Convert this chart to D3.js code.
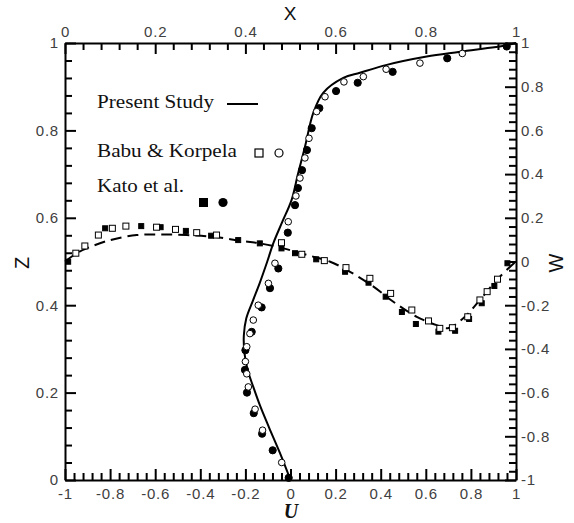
<!DOCTYPE html>
<html>
<head>
<meta charset="utf-8">
<script src="https://cdn.jsdelivr.net/npm/d3@7"></script>
<style>
  html, body { margin: 0; padding: 0; background: #fff; }
  svg { display: block; }
  .tick text { font-family: "Liberation Sans", Arial, sans-serif; font-size: 15px; fill: #404040; letter-spacing: 0.8px; }
</style>
</head>
<body>
<svg id="chart" width="574" height="523"></svg>
<script>
// Vertical centreline: U velocity against height z
const uPresentZ = [0, 0.062, 0.12, 0.17, 0.213, 0.25, 0.29, 0.33, 0.37, 0.41, 0.45, 0.50, 0.542, 0.59, 0.641, 0.70, 0.762, 0.84, 0.886, 0.92, 0.932, 0.95, 0.969, 0.98, 0.995, 1];
const uPresentU = [0, -0.047, -0.095, -0.135, -0.165, -0.189, -0.204, -0.207, -0.196, -0.167, -0.137, -0.103, -0.076, -0.037, 0.005, 0.033, 0.064, 0.101, 0.145, 0.234, 0.308, 0.427, 0.604, 0.752, 0.959, 1];

// Horizontal centreline: W velocity against X
const wPresentX = [0, 0.026, 0.048, 0.10, 0.159, 0.211, 0.27, 0.329, 0.388, 0.432, 0.484, 0.536, 0.588, 0.632, 0.684, 0.728, 0.78, 0.824, 0.849, 0.883, 0.92, 0.957, 0.987, 1];
const wPresentW = [0, 0.038, 0.06, 0.098, 0.121, 0.124, 0.121, 0.113, 0.095, 0.083, 0.06, 0.03, -0.001, -0.047, -0.115, -0.184, -0.253, -0.291, -0.305, -0.26, -0.176, -0.085, -0.024, 0];

// Babu & Korpela (open symbols)
const babuUz = [0.040, 0.114, 0.162, 0.213, 0.243, 0.271, 0.305, 0.335, 0.366, 0.400, 0.450, 0.496, 0.591, 0.650, 0.691, 0.737, 0.782, 0.843, 0.877, 0.911, 0.923, 0.940, 0.954, 0.976];
const babuU  = [-0.039, -0.124, -0.157, -0.187, -0.194, -0.200, -0.194, -0.180, -0.165, -0.143, -0.098, -0.069, -0.010, 0.024, 0.042, 0.064, 0.082, 0.116, 0.153, 0.237, 0.323, 0.424, 0.574, 0.762];
const babuWx = [0.024, 0.044, 0.074, 0.105, 0.135, 0.203, 0.245, 0.292, 0.336, 0.480, 0.525, 0.575, 0.623, 0.676, 0.722, 0.769, 0.806, 0.831, 0.859, 0.893, 0.920, 0.936, 0.959];
const babuW  = [0.038, 0.071, 0.121, 0.152, 0.162, 0.157, 0.147, 0.132, 0.121, 0.086, 0.033, 0.004, -0.028, -0.077, -0.146, -0.222, -0.272, -0.306, -0.303, -0.253, -0.176, -0.138, -0.081];

// Kato et al. (filled symbols)
const katoUz = [0.005, 0.068, 0.106, 0.153, 0.200, 0.252, 0.297, 0.339, 0.395, 0.439, 0.484, 0.566, 0.629, 0.668, 0.709, 0.755, 0.805, 0.851, 0.890, 0.909, 0.934, 0.965, 0.992];
const katoU  = [-0.008, -0.079, -0.126, -0.163, -0.193, -0.202, -0.200, -0.172, -0.128, -0.091, -0.054, -0.012, 0.020, 0.033, 0.051, 0.073, 0.094, 0.128, 0.202, 0.298, 0.453, 0.695, 0.959];
const katoWx = [0.007, 0.089, 0.169, 0.212, 0.268, 0.324, 0.384, 0.432, 0.480, 0.510, 0.557, 0.621, 0.673, 0.711, 0.747, 0.778, 0.828, 0.865, 0.896, 0.924, 0.952, 0.981];
const katoW  = [-0.001, 0.152, 0.162, 0.157, 0.140, 0.118, 0.098, 0.083, 0.060, 0.038, 0.010, -0.047, -0.097, -0.161, -0.231, -0.286, -0.321, -0.317, -0.263, -0.191, -0.112, -0.008];

// Axis ticks
const majorTicksSym = [-1, -0.8, -0.6, -0.4, -0.2, 0, 0.2, 0.4, 0.6, 0.8, 1];
const majorTicksUnit = [0, 0.2, 0.4, 0.6, 0.8, 1];
const legendLabels = ["Present Study", "Babu & Korpela", "Kato et al."];

const svg = d3.select("#chart");
const L = 65, R = 516, T = 43, B = 480;

const xU = d3.scaleLinear().domain([-1, 1]).range([L, R]);
const xX = d3.scaleLinear().domain([0, 1]).range([L, R]);
const yZ = d3.scaleLinear().domain([0, 1]).range([B, T]);
const yW = d3.scaleLinear().domain([-1, 1]).range([B, T]);

const fmt = d => String(+d.toFixed(2));
const minorSym = d3.range(-1, 1.0001, 0.04).map(v => +v.toFixed(2)).filter(v => !majorTicksSym.includes(v));
const minorUnit = d3.range(0, 1.0001, 0.04).map(v => +v.toFixed(2)).filter(v => !majorTicksUnit.includes(v));

function styleAxis(g) {
  g.select(".domain").attr("stroke", "#000").attr("stroke-width", 2);
  g.selectAll(".tick line").attr("stroke", "#000").attr("stroke-width", 2);
}

// Minor ticks
svg.append("g").attr("transform", `translate(0,${B})`)
  .call(d3.axisBottom(xU).tickValues(minorSym).tickSize(-7).tickFormat(""))
  .call(styleAxis).call(g => g.select(".domain").remove());
svg.append("g").attr("transform", `translate(0,${T})`)
  .call(d3.axisTop(xX).tickValues(minorUnit).tickSize(-7).tickFormat(""))
  .call(styleAxis).call(g => g.select(".domain").remove());
svg.append("g").attr("transform", `translate(${L},0)`)
  .call(d3.axisLeft(yZ).tickValues(minorUnit).tickSize(-7).tickFormat(""))
  .call(styleAxis).call(g => g.select(".domain").remove());
svg.append("g").attr("transform", `translate(${R},0)`)
  .call(d3.axisRight(yW).tickValues(minorSym).tickSize(-7).tickFormat(""))
  .call(styleAxis).call(g => g.select(".domain").remove());

// Major ticks with labels
svg.append("g").attr("transform", `translate(0,${B})`)
  .call(d3.axisBottom(xU).tickValues(majorTicksSym).tickSize(-11).tickSizeOuter(0).tickPadding(8).tickFormat(fmt))
  .call(styleAxis);
svg.append("g").attr("transform", `translate(0,${T})`)
  .call(d3.axisTop(xX).tickValues(majorTicksUnit).tickSize(-11).tickSizeOuter(0).tickPadding(6).tickFormat(fmt))
  .call(styleAxis);
svg.append("g").attr("transform", `translate(${L},0)`)
  .call(d3.axisLeft(yZ).tickValues(majorTicksUnit).tickSize(-11).tickSizeOuter(0).tickPadding(6).tickFormat(fmt))
  .call(styleAxis);
svg.append("g").attr("transform", `translate(${R},0)`)
  .call(d3.axisRight(yW).tickValues(majorTicksSym).tickSize(-11).tickSizeOuter(0).tickPadding(5).tickFormat(fmt))
  .call(styleAxis);

// Axis titles
const sans = "'Liberation Sans', Arial, sans-serif";
svg.append("text").attr("x", 290).attr("y", 20).attr("text-anchor", "middle")
  .attr("font-family", sans).attr("font-size", 19).attr("fill", "#111").text("X");
svg.append("text").attr("transform", "translate(29,263) rotate(-90)").attr("text-anchor", "middle")
  .attr("font-family", sans).attr("font-size", 20).attr("fill", "#111").text("Z");
svg.append("text").attr("transform", "translate(563,263) rotate(-90)").attr("text-anchor", "middle")
  .attr("font-family", sans).attr("font-size", 20).attr("fill", "#111").text("W");
svg.append("text").attr("x", 291).attr("y", 518).attr("text-anchor", "middle")
  .attr("font-family", "'Liberation Serif', 'Times New Roman', serif").attr("font-size", 20)
  .attr("font-weight", "bold").attr("font-style", "italic").attr("fill", "#111").text("U");

// Present study curves
const uLine = d3.line().x(d => xU(d[0])).y(d => yZ(d[1])).curve(d3.curveCatmullRom.alpha(0.5));
svg.append("path").datum(uPresentU.map((u, i) => [u, uPresentZ[i]]))
  .attr("d", uLine).attr("fill", "none").attr("stroke", "#000").attr("stroke-width", 2);

const wLine = d3.line().x(d => xX(d[0])).y(d => yW(d[1])).curve(d3.curveCatmullRom.alpha(0.5));
svg.append("path").datum(wPresentX.map((x, i) => [x, wPresentW[i]]))
  .attr("d", wLine).attr("fill", "none").attr("stroke", "#000").attr("stroke-width", 2)
  .attr("stroke-dasharray", "11,6");

// Symbols
function squares(xs, ys, sx, sy, filled, size) {
  svg.append("g").selectAll("rect").data(xs.map((x, i) => [x, ys[i]])).join("rect")
    .attr("x", d => sx(d[0]) - size / 2).attr("y", d => sy(d[1]) - size / 2)
    .attr("width", size).attr("height", size)
    .attr("fill", filled ? "#000" : "#fff").attr("stroke", "#000").attr("stroke-width", 1);
}
function circles(xs, ys, sx, sy, filled, r) {
  svg.append("g").selectAll("circle").data(xs.map((x, i) => [x, ys[i]])).join("circle")
    .attr("cx", d => sx(d[0])).attr("cy", d => sy(d[1])).attr("r", r)
    .attr("fill", filled ? "#000" : "#fff").attr("stroke", "#000").attr("stroke-width", 1);
}
squares(katoWx, katoW, xX, yW, true, 5);
squares(babuWx, babuW, xX, yW, false, 6);
circles(katoU, katoUz, xU, yZ, true, 3.6);
circles(babuU, babuUz, xU, yZ, false, 3.3);

// Legend
const serif = "'Liberation Serif', 'Times New Roman', serif";
const legY = [108, 157, 192];
const legW = [117, 140, 87];
legendLabels.forEach((t, i) => {
  svg.append("text").attr("x", 97).attr("y", legY[i]).attr("font-family", serif)
    .attr("font-size", 19).attr("fill", "#111")
    .attr("textLength", legW[i]).attr("lengthAdjust", "spacingAndGlyphs").text(t);
});
svg.append("line").attr("x1", 227).attr("x2", 258).attr("y1", 104).attr("y2", 104)
  .attr("stroke", "#000").attr("stroke-width", 2);
svg.append("rect").attr("x", 255).attr("y", 149).attr("width", 8).attr("height", 8)
  .attr("fill", "#fff").attr("stroke", "#000").attr("stroke-width", 1.2);
svg.append("circle").attr("cx", 279).attr("cy", 153).attr("r", 4)
  .attr("fill", "#fff").attr("stroke", "#000").attr("stroke-width", 1.2);
svg.append("rect").attr("x", 199).attr("y", 198).attr("width", 9).attr("height", 9).attr("fill", "#000");
svg.append("circle").attr("cx", 223).attr("cy", 202.5).attr("r", 4.6).attr("fill", "#000");
</script>
</body>
</html>
